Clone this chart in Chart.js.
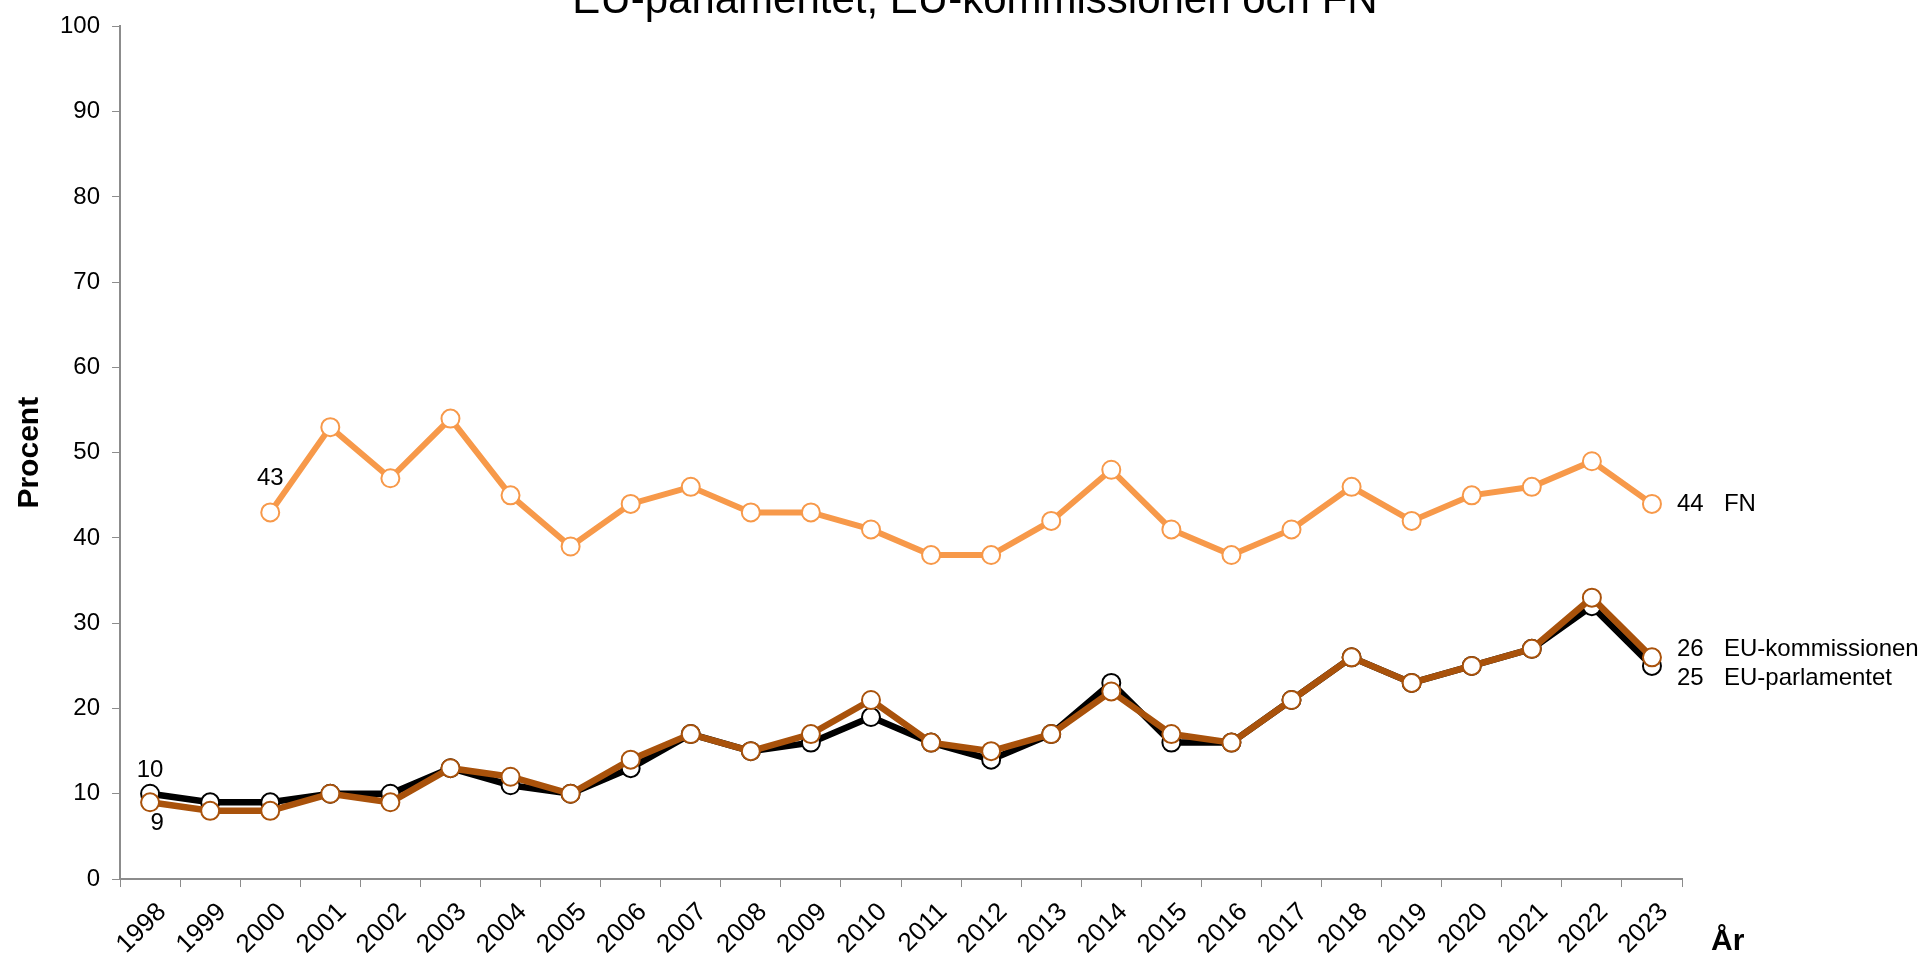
<!DOCTYPE html>
<html>
<head>
<meta charset="utf-8">
<script src="https://cdn.jsdelivr.net/npm/chart.js@4"></script>
<style>
  html, body { margin: 0; padding: 0; background: #fff; overflow: hidden; }
  #wrap { position: relative; width: 1921px; height: 953px; }
</style>
</head>
<body>
<div id="wrap"><canvas id="Chart" width="1921" height="953"></canvas></div>
<script>
const years = ['1998','1999','2000','2001','2002','2003','2004','2005','2006','2007','2008','2009','2010',
  '2011','2012','2013','2014','2015','2016','2017','2018','2019','2020','2021','2022','2023'];
const fnValues = [null, null, 43, 53, 47, 54, 45, 39, 44, 46, 43, 43, 41, 38, 38, 42, 48, 41, 38, 41, 46, 42, 45, 46, 49, 44];
const parlValues = [10, 9, 9, 10, 10, 13, 11, 10, 13, 17, 15, 16, 19, 16, 14, 17, 23, 16, 16, 21, 26, 23, 25, 27, 32, 25];
const kommValues = [9, 8, 8, 10, 9, 13, 12, 10, 14, 17, 15, 17, 21, 16, 15, 17, 22, 17, 16, 21, 26, 23, 25, 27, 33, 26];
const seriesNames = ['FN', 'EU-kommissionen', 'EU-parlamentet'];

const FONT = "'Liberation Sans', Arial, sans-serif";
const AXIS_GREY = '#8c8c8c';

// title, "År", first value labels and end labels
const labelsPlugin = {
  id: 'labels',
  afterDatasetsDraw(chart) {
    const ctx = chart.ctx;
    const area = chart.chartArea;
    ctx.save();
    ctx.fillStyle = '#000';

    ctx.font = '42px ' + FONT;
    ctx.textAlign = 'center';
    ctx.textBaseline = 'alphabetic';
    ctx.fillText('EU-parlamentet, EU-kommissionen och FN', 975, 13);

    ctx.font = 'bold 30px ' + FONT;
    ctx.textAlign = 'left';
    ctx.fillText('År', area.right + 29, 950);

    const fn = chart.getDatasetMeta(0).data;
    const komm = chart.getDatasetMeta(1).data;
    const parl = chart.getDatasetMeta(2).data;
    const last = years.length - 1;

    ctx.font = '24px ' + FONT;
    ctx.textBaseline = 'middle';
    ctx.textAlign = 'center';
    ctx.fillText(String(fnValues[2]), fn[2].x, fn[2].y - 34);
    ctx.fillText(String(parlValues[0]), parl[0].x, parl[0].y - 23);
    ctx.fillText(String(kommValues[0]), komm[0].x + 7, komm[0].y + 21);

    ctx.textAlign = 'left';
    const ends = [
      [fn[last], fnValues[last], seriesNames[0], 0],
      [komm[last], kommValues[last], seriesNames[1], -8],
      [parl[last], parlValues[last], seriesNames[2], 12]
    ];
    ends.forEach(([pt, v, name, dy]) => {
      ctx.fillText(String(v), pt.x + 25, pt.y + dy);
      ctx.fillText(name, pt.x + 72, pt.y + dy);
    });
    ctx.restore();
  }
};

const ctx = document.getElementById('Chart').getContext('2d');

new Chart(ctx, {
  type: 'line',
  data: {
    labels: years,
    datasets: [
      {
        label: seriesNames[0],
        data: fnValues,
        borderColor: '#F7994A',
        borderWidth: 6,
        pointRadius: 9,
        pointBorderWidth: 2,
        pointBackgroundColor: '#fff',
        pointBorderColor: '#F7994A',
        order: 0
      },
      {
        label: seriesNames[1],
        data: kommValues,
        borderColor: '#A9520B',
        borderWidth: 6.5,
        pointRadius: 9,
        pointBorderWidth: 2,
        pointBackgroundColor: '#fff',
        pointBorderColor: '#A9520B',
        order: 1
      },
      {
        label: seriesNames[2],
        data: parlValues,
        borderColor: '#000',
        borderWidth: 6.5,
        pointRadius: 9,
        pointBorderWidth: 2,
        pointBackgroundColor: '#fff',
        pointBorderColor: '#000',
        order: 2
      }
    ]
  },
  plugins: [labelsPlugin],
  options: {
    responsive: false,
    animation: false,
    layout: {
      padding: { left: 8, right: 239, top: 10, bottom: -17 }
    },
    plugins: {
      legend: { display: false },
      tooltip: { enabled: false }
    },
    scales: {
      x: {
        offset: true,
        grid: {
          offset: true,
          drawOnChartArea: false,
          tickLength: 8,
          color: AXIS_GREY
        },
        border: { color: AXIS_GREY, width: 2 },
        ticks: {
          color: '#000',
          font: { size: 26, family: FONT },
          minRotation: 45,
          maxRotation: 45,
          padding: 10,
          labelOffset: 12,
          autoSkip: false
        }
      },
      y: {
        min: 0,
        max: 100,
        grid: {
          drawOnChartArea: false,
          tickLength: 8,
          color: AXIS_GREY
        },
        border: { color: AXIS_GREY, width: 2 },
        ticks: {
          stepSize: 10,
          color: '#000',
          font: { size: 24, family: FONT },
          padding: 12
        },
        title: {
          display: true,
          text: 'Procent',
          color: '#000',
          font: { size: 30, weight: 'bold', family: FONT },
          padding: { top: 4, bottom: 0 }
        }
      }
    }
  }
});
</script>
</body>
</html>
